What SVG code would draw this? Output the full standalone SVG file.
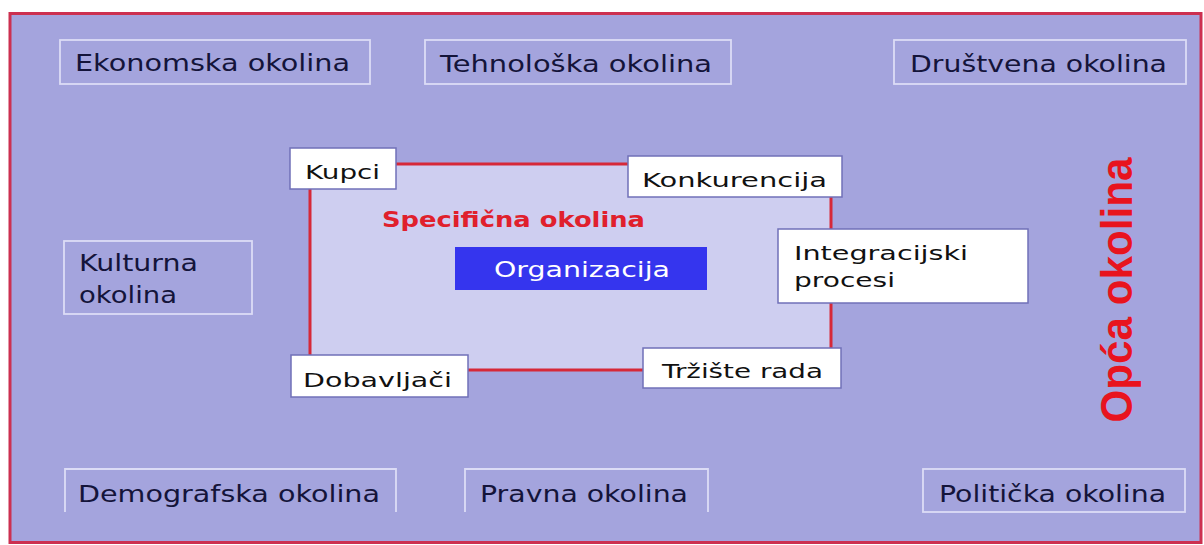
<svg xmlns="http://www.w3.org/2000/svg" width="1204" height="545" viewBox="0 0 1204 545">
  <style>
    .cat { fill: none; stroke: #dcdcf6; stroke-width: 1.8; }
    .lbl { font-family: "DejaVu Sans", "Liberation Sans", sans-serif; font-size: 23px; fill: #14143a; }
    .wbox { fill: #ffffff; stroke: #7070b8; stroke-width: 1.5; }
    .wlbl { font-family: "DejaVu Sans", "Liberation Sans", sans-serif; font-size: 20px; fill: #111111; }
  </style>
  <rect x="0" y="0" width="1204" height="545" fill="#ffffff"/>
  <rect id="outer" x="10" y="13.5" width="1191" height="529" fill="#a4a4dd" stroke="#cc3050" stroke-width="3"/>

  <g id="connectors">
    <rect id="specific" x="310" y="164" width="521" height="206" fill="#cecef0" stroke="#d62838" stroke-width="3"/>
  </g>

  <g id="ekonomska">
    <rect class="cat" x="60" y="40" width="310" height="44"/>
    <text class="lbl" x="75" y="71" textLength="275" lengthAdjust="spacingAndGlyphs">Ekonomska okolina</text>
  </g>
  <g id="tehnoloska">
    <rect class="cat" x="425" y="40" width="306" height="44"/>
    <text class="lbl" x="440" y="72" textLength="272" lengthAdjust="spacingAndGlyphs">Tehnološka okolina</text>
  </g>
  <g id="drustvena">
    <rect class="cat" x="894" y="40" width="292" height="44"/>
    <text class="lbl" x="910" y="72" textLength="257" lengthAdjust="spacingAndGlyphs">Društvena okolina</text>
  </g>
  <g id="kulturna">
    <rect class="cat" x="64" y="241" width="188" height="73"/>
    <text class="lbl" x="79" y="271" textLength="119" lengthAdjust="spacingAndGlyphs">Kulturna</text>
    <text class="lbl" x="79" y="303" textLength="98" lengthAdjust="spacingAndGlyphs">okolina</text>
  </g>
  <g id="demografska">
    <path class="cat" d="M65 512 V469 H396 V512"/>
    <text class="lbl" x="78" y="502" textLength="302" lengthAdjust="spacingAndGlyphs">Demografska okolina</text>
  </g>
  <g id="pravna">
    <path class="cat" d="M465 512 V469 H708 V512"/>
    <text class="lbl" x="480" y="502" textLength="208" lengthAdjust="spacingAndGlyphs">Pravna okolina</text>
  </g>
  <g id="politicka">
    <rect class="cat" x="923" y="469" width="262" height="43"/>
    <text class="lbl" x="939" y="502" textLength="227" lengthAdjust="spacingAndGlyphs">Politička okolina</text>
  </g>

  <g id="specificna-label">
    <text x="382" y="227" font-family="'DejaVu Sans', 'Liberation Sans', sans-serif" font-size="21" font-weight="bold" fill="#e0202c" textLength="263" lengthAdjust="spacingAndGlyphs">Specifična okolina</text>
  </g>

  <g id="organizacija">
    <rect x="455" y="247" width="252" height="43" fill="#3535ee"/>
    <text x="494" y="277" font-family="'DejaVu Sans', 'Liberation Sans', sans-serif" font-size="21" fill="#ffffff" textLength="176" lengthAdjust="spacingAndGlyphs">Organizacija</text>
  </g>

  <g id="kupci">
    <rect class="wbox" x="290" y="148" width="106" height="41"/>
    <text class="wlbl" x="305" y="179" textLength="75" lengthAdjust="spacingAndGlyphs">Kupci</text>
  </g>
  <g id="konkurencija">
    <rect class="wbox" x="628" y="156" width="214" height="41"/>
    <text class="wlbl" x="642" y="187" textLength="185" lengthAdjust="spacingAndGlyphs">Konkurencija</text>
  </g>
  <g id="integracijski">
    <rect class="wbox" x="778" y="229" width="250" height="74"/>
    <text class="wlbl" x="794" y="260" textLength="174" lengthAdjust="spacingAndGlyphs">Integracijski</text>
    <text class="wlbl" x="794" y="287" textLength="101" lengthAdjust="spacingAndGlyphs">procesi</text>
  </g>
  <g id="trziste">
    <rect class="wbox" x="643" y="348" width="198" height="40"/>
    <text class="wlbl" x="662" y="378" textLength="161" lengthAdjust="spacingAndGlyphs">Tržište rada</text>
  </g>
  <g id="dobavljaci">
    <rect class="wbox" x="291" y="355" width="177" height="42"/>
    <text class="wlbl" x="303" y="387" textLength="149" lengthAdjust="spacingAndGlyphs">Dobavljači</text>
  </g>

  <g id="opca-label">
    <text transform="translate(1132 290) rotate(-90)" text-anchor="middle" font-family="'Liberation Sans', Arial, sans-serif" font-size="44" font-weight="bold" fill="#e8141e" textLength="265" lengthAdjust="spacingAndGlyphs">Opća okolina</text>
  </g>
</svg>
